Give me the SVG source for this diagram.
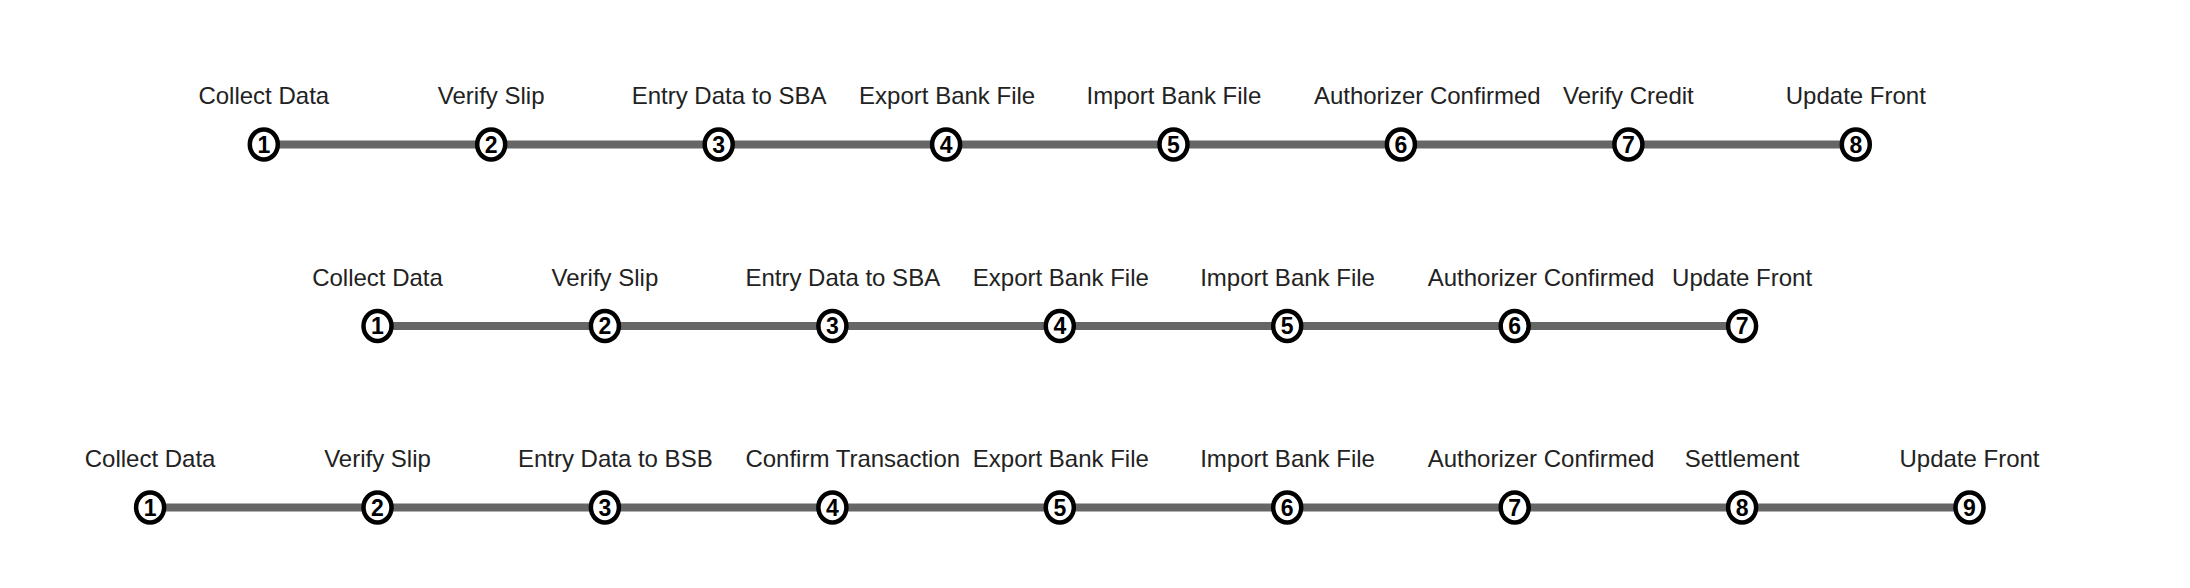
<svg xmlns="http://www.w3.org/2000/svg" width="2190" height="588" viewBox="0 0 2190 588">
<style>
.lbl{font-family:"Liberation Sans",Arial,sans-serif;font-size:24px;fill:#222;text-anchor:middle}
.lbl.s{text-anchor:start}
.num{font-family:"Liberation Sans",Arial,sans-serif;font-size:23px;font-weight:bold;fill:#000;text-anchor:middle}
.dot{fill:#fff;stroke:#000;stroke-width:4.5}
.con{stroke:#666;stroke-width:8;fill:none}
</style>
<rect width="2190" height="588" fill="#fff"/>
<g id="connectors">
<line class="con" x1="263.8" y1="144.5" x2="1855.8" y2="144.5"/>
<line class="con" x1="377.5" y1="326" x2="1742.1" y2="326"/>
<line class="con" x1="150.1" y1="507.5" x2="1969.5" y2="507.5"/>
</g>
<g id="row1">
<g id="r1n1"><text class="lbl" x="263.8" y="104">Collect Data</text><ellipse class="dot" cx="263.8" cy="144.5" rx="14" ry="15"/><text class="num" x="263.8" y="152.8">1</text></g>
<g id="r1n2"><text class="lbl" x="491.2" y="104">Verify Slip</text><ellipse class="dot" cx="491.2" cy="144.5" rx="14" ry="15"/><text class="num" x="491.2" y="152.8">2</text></g>
<g id="r1n3"><text class="lbl s" x="631.7" y="104">Entry Data to SBA</text><ellipse class="dot" cx="718.7" cy="144.5" rx="14" ry="15"/><text class="num" x="718.7" y="152.8">3</text></g>
<g id="r1n4"><text class="lbl s" x="859.1" y="104">Export Bank File</text><ellipse class="dot" cx="946.1" cy="144.5" rx="14" ry="15"/><text class="num" x="946.1" y="152.8">4</text></g>
<g id="r1n5"><text class="lbl s" x="1086.5" y="104">Import Bank File</text><ellipse class="dot" cx="1173.5" cy="144.5" rx="14" ry="15"/><text class="num" x="1173.5" y="152.8">5</text></g>
<g id="r1n6"><text class="lbl s" x="1313.9" y="104">Authorizer Confirmed</text><ellipse class="dot" cx="1400.9" cy="144.5" rx="14" ry="15"/><text class="num" x="1400.9" y="152.8">6</text></g>
<g id="r1n7"><text class="lbl" x="1628.4" y="104">Verify Credit</text><ellipse class="dot" cx="1628.4" cy="144.5" rx="14" ry="15"/><text class="num" x="1628.4" y="152.8">7</text></g>
<g id="r1n8"><text class="lbl" x="1855.8" y="104">Update Front</text><ellipse class="dot" cx="1855.8" cy="144.5" rx="14" ry="15"/><text class="num" x="1855.8" y="152.8">8</text></g>
</g>
<g id="row2">
<g id="r2n1"><text class="lbl" x="377.5" y="285.5">Collect Data</text><ellipse class="dot" cx="377.5" cy="326" rx="14" ry="15"/><text class="num" x="377.5" y="334.3">1</text></g>
<g id="r2n2"><text class="lbl" x="604.9" y="285.5">Verify Slip</text><ellipse class="dot" cx="604.9" cy="326" rx="14" ry="15"/><text class="num" x="604.9" y="334.3">2</text></g>
<g id="r2n3"><text class="lbl s" x="745.4" y="285.5">Entry Data to SBA</text><ellipse class="dot" cx="832.4" cy="326" rx="14" ry="15"/><text class="num" x="832.4" y="334.3">3</text></g>
<g id="r2n4"><text class="lbl s" x="972.8" y="285.5">Export Bank File</text><ellipse class="dot" cx="1059.8" cy="326" rx="14" ry="15"/><text class="num" x="1059.8" y="334.3">4</text></g>
<g id="r2n5"><text class="lbl s" x="1200.2" y="285.5">Import Bank File</text><ellipse class="dot" cx="1287.2" cy="326" rx="14" ry="15"/><text class="num" x="1287.2" y="334.3">5</text></g>
<g id="r2n6"><text class="lbl s" x="1427.7" y="285.5">Authorizer Confirmed</text><ellipse class="dot" cx="1514.7" cy="326" rx="14" ry="15"/><text class="num" x="1514.7" y="334.3">6</text></g>
<g id="r2n7"><text class="lbl" x="1742.1" y="285.5">Update Front</text><ellipse class="dot" cx="1742.1" cy="326" rx="14" ry="15"/><text class="num" x="1742.1" y="334.3">7</text></g>
</g>
<g id="row3">
<g id="r3n1"><text class="lbl" x="150.1" y="467">Collect Data</text><ellipse class="dot" cx="150.1" cy="507.5" rx="14" ry="15"/><text class="num" x="150.1" y="515.8">1</text></g>
<g id="r3n2"><text class="lbl" x="377.5" y="467">Verify Slip</text><ellipse class="dot" cx="377.5" cy="507.5" rx="14" ry="15"/><text class="num" x="377.5" y="515.8">2</text></g>
<g id="r3n3"><text class="lbl s" x="517.9" y="467">Entry Data to BSB</text><ellipse class="dot" cx="604.9" cy="507.5" rx="14" ry="15"/><text class="num" x="604.9" y="515.8">3</text></g>
<g id="r3n4"><text class="lbl s" x="745.4" y="467">Confirm Transaction</text><ellipse class="dot" cx="832.4" cy="507.5" rx="14" ry="15"/><text class="num" x="832.4" y="515.8">4</text></g>
<g id="r3n5"><text class="lbl s" x="972.8" y="467">Export Bank File</text><ellipse class="dot" cx="1059.8" cy="507.5" rx="14" ry="15"/><text class="num" x="1059.8" y="515.8">5</text></g>
<g id="r3n6"><text class="lbl s" x="1200.2" y="467">Import Bank File</text><ellipse class="dot" cx="1287.2" cy="507.5" rx="14" ry="15"/><text class="num" x="1287.2" y="515.8">6</text></g>
<g id="r3n7"><text class="lbl s" x="1427.7" y="467">Authorizer Confirmed</text><ellipse class="dot" cx="1514.7" cy="507.5" rx="14" ry="15"/><text class="num" x="1514.7" y="515.8">7</text></g>
<g id="r3n8"><text class="lbl" x="1742.1" y="467">Settlement</text><ellipse class="dot" cx="1742.1" cy="507.5" rx="14" ry="15"/><text class="num" x="1742.1" y="515.8">8</text></g>
<g id="r3n9"><text class="lbl" x="1969.5" y="467">Update Front</text><ellipse class="dot" cx="1969.5" cy="507.5" rx="14" ry="15"/><text class="num" x="1969.5" y="515.8">9</text></g>
</g>
</svg>
